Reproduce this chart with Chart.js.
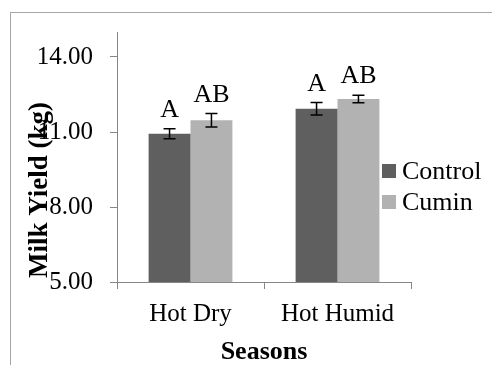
<!DOCTYPE html>
<html>
<head>
<meta charset="utf-8">
<script src="https://cdn.jsdelivr.net/npm/chart.js@4.4.1/dist/chart.umd.min.js"></script>
<style>
  html, body { margin: 0; padding: 0; background: #fff; overflow: hidden; }
  #wrap { position: relative; width: 492px; height: 365px; }
  #frame {
    position: absolute; left: 10px; top: 12px; width: 700px; height: 700px;
    border-left: 1px solid #a6a6a6; border-top: 1px solid #a6a6a6;
  }
  canvas { position: absolute; left: 0; top: 0; }
</style>
</head>
<body>
<div id="wrap">
  <div id="frame"></div>
  <canvas id="chart" width="492" height="365"></canvas>
</div>
<script>
// data
const seasons = ['Hot Dry', 'Hot Humid'];
const controlYield = [10.93, 11.93];
const cuminYield = [11.47, 12.32];
const controlErr = [0.20, 0.25];
const cuminErr = [0.27, 0.15];
const controlLetters = ['A', 'A'];
const cuminLetters = ['AB', 'AB'];
const yTicks = [5, 8, 11, 14];

const serif = "'Liberation Serif', 'Times New Roman', serif";
const axisGray = '#868686';

// error bars + significance letters, drawn through the scales
const errorBars = {
  id: 'errorBars',
  afterDatasetsDraw(chart) {
    const ctx = chart.ctx;
    const y = chart.scales.y;
    chart.data.datasets.forEach((ds, di) => {
      const meta = chart.getDatasetMeta(di);
      meta.data.forEach((bar, i) => {
        const v = ds.data[i], e = ds.errors[i];
        const top = y.getPixelForValue(v + e);
        const bot = y.getPixelForValue(v - e);
        ctx.save();
        ctx.strokeStyle = '#000';
        ctx.lineWidth = 1.5;
        ctx.beginPath();
        ctx.moveTo(bar.x, top); ctx.lineTo(bar.x, bot);
        ctx.moveTo(bar.x - 6, top); ctx.lineTo(bar.x + 6, top);
        ctx.moveTo(bar.x - 6, bot); ctx.lineTo(bar.x + 6, bot);
        ctx.stroke();
        ctx.fillStyle = '#000';
        ctx.font = '26px ' + serif;
        ctx.textAlign = 'center';
        ctx.textBaseline = 'alphabetic';
        ctx.fillText(ds.letters[i], bar.x, top - 12);
        ctx.restore();
      });
    });
  },
  afterDraw(chart) {
    const ctx = chart.ctx;
    ctx.save();
    // y axis title (sits over the tick labels, like the original)
    ctx.translate(40, 190);
    ctx.rotate(-Math.PI / 2);
    ctx.font = 'bold 27px ' + serif;
    ctx.fillStyle = '#000';
    ctx.textAlign = 'center';
    ctx.textBaseline = 'middle';
    ctx.fillText('Milk Yield (kg)', 0, 0);
    ctx.restore();

    // legend
    ctx.save();
    chart.data.datasets.forEach((ds, i) => {
      const ly = 171 + i * 31;
      ctx.fillStyle = ds.backgroundColor;
      ctx.fillRect(382, ly - 7, 14, 14);
      ctx.fillStyle = '#000';
      ctx.font = '26px ' + serif;
      ctx.textAlign = 'left';
      ctx.textBaseline = 'middle';
      ctx.fillText(ds.label, 402, ly + 1);
    });
    ctx.restore();
  }
};

new Chart(document.getElementById('chart'), {
  type: 'bar',
  data: {
    labels: seasons,
    datasets: [
      { label: 'Control', data: controlYield, errors: controlErr, letters: controlLetters,
        backgroundColor: '#5f5f5f', barPercentage: 1, categoryPercentage: 0.57 },
      { label: 'Cumin', data: cuminYield, errors: cuminErr, letters: cuminLetters,
        backgroundColor: '#b2b2b2', barPercentage: 1, categoryPercentage: 0.57 }
    ]
  },
  options: {
    responsive: false,
    animation: false,
    layout: { padding: { top: 27, right: 81, left: 0, bottom: 0 } },
    plugins: { legend: { display: false }, tooltip: { enabled: false } },
    scales: {
      x: {
        grid: { offset: true, drawOnChartArea: false, tickLength: 7, color: axisGray },
        border: { color: axisGray },
        ticks: { color: '#000', font: { family: serif, size: 25 }, padding: 10 },
        title: { display: true, text: 'Seasons', color: '#000',
                 font: { family: serif, size: 26, weight: 'bold', lineHeight: 1 },
                 padding: { top: 0, bottom: 0 } },
        afterFit(scale) { scale.height = 83; }
      },
      y: {
        min: 5,
        max: 15,
        afterBuildTicks(scale) { scale.ticks = yTicks.map(v => ({ value: v })); },
        grid: { drawOnChartArea: false, tickLength: 7, color: axisGray },
        border: { color: axisGray },
        ticks: { color: '#000', font: { family: serif, size: 25 }, padding: 17,
                 callback: v => Number(v).toFixed(2) },
        afterFit(scale) { scale.width = 117; }
      }
    }
  },
  plugins: [errorBars]
});
</script>
</body>
</html>
